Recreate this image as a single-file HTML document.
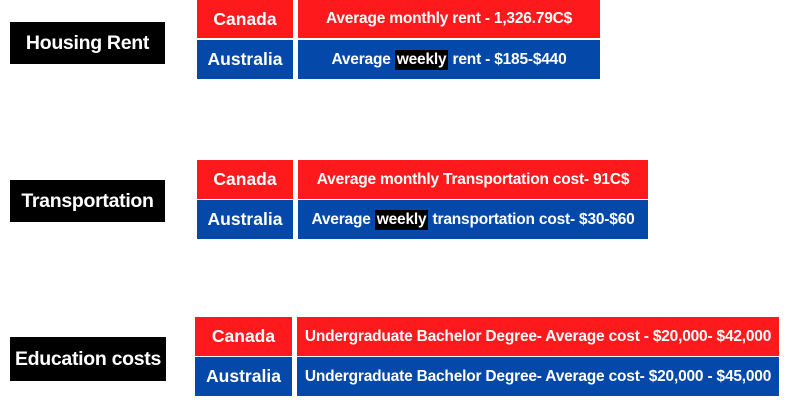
<!DOCTYPE html>
<html><head><meta charset="utf-8"><style>
body{margin:0;width:800px;height:400px;background:#fff;position:relative;overflow:hidden;font-family:"Liberation Sans",sans-serif;font-weight:bold;color:#fff}
div{position:absolute;box-sizing:border-box;display:flex;align-items:center;justify-content:center;white-space:nowrap}
.lab{background:#000;font-size:19.5px;letter-spacing:-0.3px}
.r{background:#fe1a1c}.b{background:#0449a9}
.c{font-size:17.5px}.d{font-size:15.5px;letter-spacing:-0.2px}
.hl{position:static;display:inline;background:#000;padding:1px 2px}
</style></head><body>
<div class="lab" style="left:10px;top:22px;width:155px;height:42px">Housing Rent</div>
<div class="r c" style="left:197px;top:0;width:96px;height:38px">Canada</div>
<div class="b c" style="left:197px;top:40px;width:96px;height:39px">Australia</div>
<div class="r d" style="left:298px;top:0;width:302px;height:38px">Average monthly rent - 1,326.79C$</div>
<div class="b d" style="left:298px;top:40px;width:302px;height:39px">Average&nbsp;<span class="hl">weekly</span>&nbsp;rent - $185-$440</div>

<div class="lab" style="left:10px;top:180px;width:155px;height:42px">Transportation</div>
<div class="r c" style="left:197px;top:160px;width:96px;height:39px">Canada</div>
<div class="b c" style="left:197px;top:200px;width:96px;height:39px">Australia</div>
<div class="r d" style="left:298px;top:160px;width:350px;height:39px">Average monthly Transportation cost- 91C$</div>
<div class="b d" style="left:298px;top:200px;width:350px;height:39px">Average&nbsp;<span class="hl">weekly</span>&nbsp;transportation cost- $30-$60</div>

<div class="lab" style="left:10px;top:337px;width:156px;height:44px">Education costs</div>
<div class="r c" style="left:195px;top:317px;width:97px;height:39px">Canada</div>
<div class="b c" style="left:195px;top:357px;width:97px;height:39px">Australia</div>
<div class="r d" style="left:297px;top:317px;width:482px;height:39px">Undergraduate Bachelor Degree- Average cost - $20,000- $42,000</div>
<div class="b d" style="left:297px;top:357px;width:482px;height:39px">Undergraduate Bachelor Degree- Average cost- $20,000 - $45,000</div>
</body></html>
